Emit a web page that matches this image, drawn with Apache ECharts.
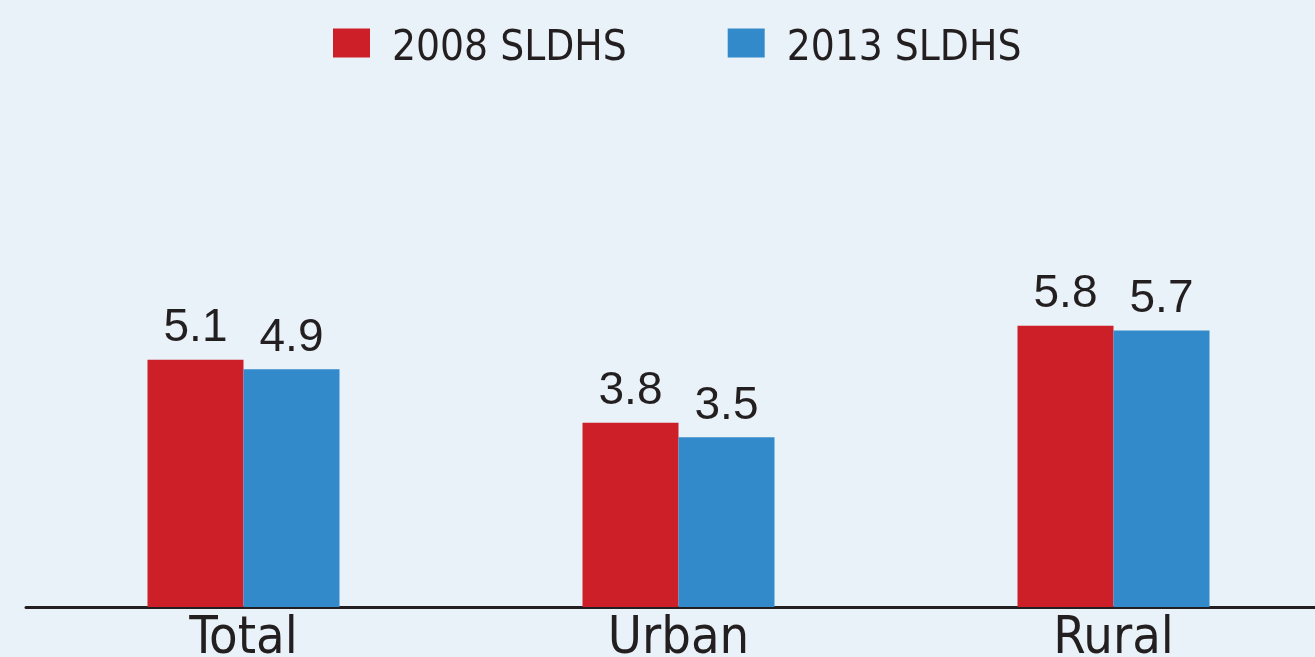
<!DOCTYPE html>
<html>
<head>
<meta charset="utf-8">
<script src="https://cdn.jsdelivr.net/npm/echarts@6/dist/echarts.min.js"></script>
<style>
  html, body { margin: 0; padding: 0; background: #eaf2f9; }
  #chart { width: 1315px; height: 657px; }
</style>
</head>
<body>
<div id="chart"></div>
<script>
// categories and survey values
var categories = ['Total', 'Urban', 'Rural'];
var survey2008 = [5.1, 3.8, 5.8];
var survey2013 = [4.9, 3.5, 5.7];
var seriesNames = ['2008 SLDHS', '2013 SLDHS'];

var narrowFont = '"DejaVu Sans Condensed", "Liberation Sans", sans-serif';

var chart = echarts.init(document.getElementById('chart'));

function valueLabel() {
	return {
		show: true,
		position: 'top',
		distance: 8,
		color: '#231f20',
		fontFamily: 'Liberation Sans',
		fontSize: 46,
		formatter: function (p) { return p.value.toFixed(1); }
	};
}

var option = {
	backgroundColor: '#eaf2f9',
	animation: false,
	legend: {
		data: seriesNames,
		left: 328,
		top: 23,
		itemWidth: 37,
		itemHeight: 29,
		itemGap: 101,
		icon: 'rect',
		formatter: function (name) { return '{t|' + name + '}'; },
		textStyle: {
			color: '#231f20',
			fontFamily: narrowFont,
			fontSize: 42,
			padding: [0, 0, 0, 17],
			rich: {
				t: {
					color: '#231f20',
					fontFamily: narrowFont,
					fontSize: 42,
					padding: [12, 0, 0, 0]
				}
			}
		}
	},
	grid: {
		left: 26,
		right: -16,
		top: 122,
		bottom: 50,
		outerBoundsMode: 'none'
	},
	xAxis: {
		type: 'category',
		data: categories,
		axisLine: { lineStyle: { color: '#231f20', width: 3 } },
		axisTick: { show: false },
		axisLabel: {
			color: '#231f20',
			fontFamily: narrowFont,
			fontSize: 52,
			margin: 6
		}
	},
	yAxis: {
		type: 'value',
		min: 0,
		max: 10,
		show: false,
		splitLine: { show: false }
	},
	series: [
		{
			name: seriesNames[0],
			type: 'bar',
			data: survey2008,
			barWidth: 96,
			barGap: '0%',
			itemStyle: { color: '#cc1f27' },
			label: valueLabel()
		},
		{
			name: seriesNames[1],
			type: 'bar',
			data: survey2013,
			barWidth: 96,
			barGap: '0%',
			itemStyle: { color: '#338acb' },
			label: valueLabel()
		}
	]
};
chart.setOption(option);
</script>
</body>
</html>
